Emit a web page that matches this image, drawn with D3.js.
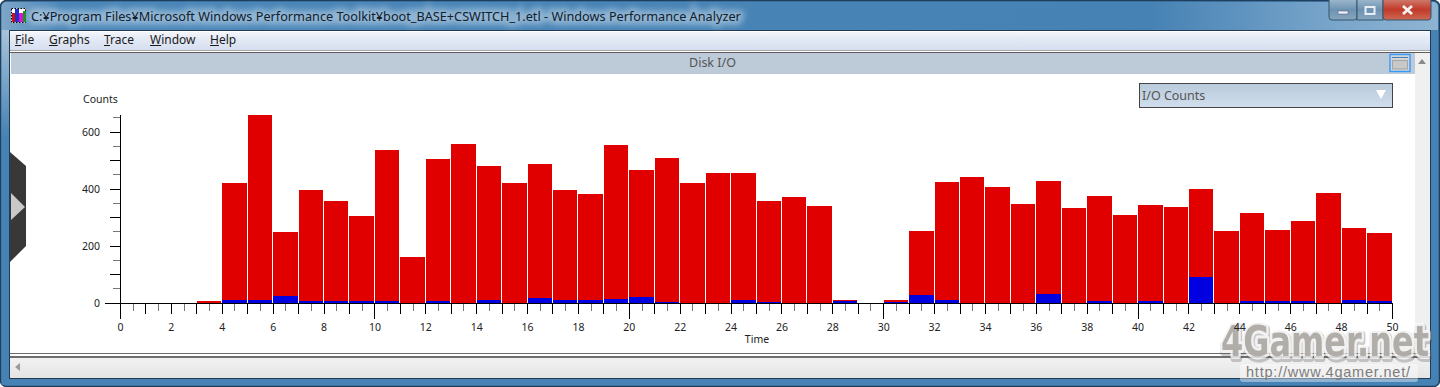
<!DOCTYPE html>
<html>
<head>
<meta charset="utf-8">
<script src="https://cdn.jsdelivr.net/npm/d3@7"></script>
<style>
html, body { margin: 0; padding: 0; background: #fff; overflow: hidden; }
svg { display: block; font-family: "Noto Sans", sans-serif; }
</style>
</head>
<body>
<svg id="chart" width="1440" height="387"></svg>
<script>
// --- Data ---
const timeBins = d3.range(0, 50);
const totalCounts = [0, 0, 0, 7, 420, 660, 250, 397, 358, 305, 537, 162, 505, 558, 480, 420, 488, 397, 382, 555,
    467, 509, 420, 456, 456, 358, 372, 340, 12, 0, 12, 253, 425, 442, 407, 347, 428, 333, 375, 309,
    344, 337, 400, 253, 316, 256, 288, 386, 263, 246];
const blueCounts = [0, 0, 0, 0, 12, 12, 25, 7, 7, 7, 7, 0, 7, 0, 12, 0, 18, 12, 12, 14,
    21, 4, 0, 0, 12, 4, 0, 0, 8, 0, 4, 28, 12, 0, 0, 0, 33, 0, 7, 0,
    7, 0, 92, 0, 7, 7, 7, 0, 12, 7];
const yLabels = [0, 200, 400, 600];
const xLabels = d3.range(0, 51, 2);
const menuItems = ["File", "Graphs", "Trace", "Window", "Help"];
const menuX = [15, 49, 104, 150, 210];

const svg = d3.select("#chart");
const defs = svg.append("defs");

function gradient(id, stops) {
    const g = defs.append("linearGradient").attr("id", id).attr("x1", 0).attr("y1", 0).attr("x2", 0).attr("y2", 1);
    stops.forEach(s => g.append("stop").attr("offset", s[0]).attr("stop-color", s[1]));
}
gradient("menuGrad", [[0, "#f4f6fb"], [0.3, "#e6ebf6"], [1, "#d6dff0"]]);
gradient("comboGrad", [[0, "#b9cadb"], [1, "#d0deec"]]);
gradient("closeGrad", [[0, "#d08a7c"], [0.55, "#c23a2a"], [1, "#cc6a55"]]);
gradient("btnGrad", [[0, "#a9c0d3"], [0.55, "#6d93b2"], [1, "#87a5bd"]]);
gradient("scrollGrad", [[0, "#f2f2f2"], [1, "#e4e4e4"]]);
gradient("edgeGrad", [[0, "#a9c3d9"], [0.3, "#4682b4"], [1, "#4682b4"]]);
const titleGrad = defs.append("linearGradient").attr("id", "titleGrad");
[[0, "#7ea6c8"], [0.04, "#4a86b8"], [0.8, "#4682b4"], [0.93, "#7aa6cb"], [1, "#8fb4d2"]].forEach(s =>
    titleGrad.append("stop").attr("offset", s[0]).attr("stop-color", s[1]));
defs.append("filter").attr("id", "glow").attr("x", "-5%").attr("y", "-100%").attr("width", "110%").attr("height", "300%")
    .append("feGaussianBlur").attr("stdDeviation", 3);

// --- Window frame ---
function drawFrame() {
    const titleText = "C:¥Program Files¥Microsoft Windows Performance Toolkit¥boot_BASE+CSWITCH_1.etl - Windows Performance Analyzer";

    svg.append("rect").attr("x", 0.5).attr("y", 0.5).attr("width", 1439).attr("height", 386).attr("rx", 6)
        .attr("fill", "#4682b4").attr("stroke", "#1f3f5c").attr("stroke-width", 1.5);
    svg.append("path").attr("d", "M1.5,30V7a5,5 0 0 1 5,-5H1433a5,5 0 0 1 5,5V30Z").attr("fill", "url(#titleGrad)");
    svg.append("rect").attr("x", 1.5).attr("y", 30).attr("width", 8).attr("height", 355).attr("fill", "url(#edgeGrad)");

    // inner client area
    svg.append("rect").attr("x", 9).attr("y", 30).attr("width", 1422).attr("height", 349).attr("fill", "#1f3a52");
    svg.append("rect").attr("x", 10).attr("y", 31).attr("width", 1420).attr("height", 347).attr("fill", "#fff");

    // menu bar
    svg.append("rect").attr("x", 10).attr("y", 32).attr("width", 1420).attr("height", 18).attr("fill", "url(#menuGrad)");
    svg.append("rect").attr("x", 10).attr("y", 50).attr("width", 1420).attr("height", 1).attr("fill", "#a8a8a8");
    svg.append("rect").attr("x", 10).attr("y", 52).attr("width", 1420).attr("height", 1).attr("fill", "#5c5c5c");

    // panel header
    svg.append("rect").attr("x", 11).attr("y", 53).attr("width", 1404).attr("height", 21).attr("fill", "#bdcbd9");
    svg.append("text").attr("x", 712.5).attr("y", 67).attr("text-anchor", "middle")
        .attr("font-size", 12.5).attr("fill", "#555").text("Disk I/O");

    // restore icon in panel header
    svg.append("rect").attr("x", 1390).attr("y", 54.5).attr("width", 20).attr("height", 17)
        .attr("fill", "#d4d4d4").attr("stroke", "#3399ff").attr("stroke-width", 1.4);
    svg.append("line").attr("x1", 1392).attr("x2", 1408).attr("y1", 57.5).attr("y2", 57.5).attr("stroke", "#4a7fb8");
    svg.append("rect").attr("x", 1392.5).attr("y", 60.5).attr("width", 15).attr("height", 8.5)
        .attr("fill", "#c8c8c8").attr("stroke", "#a5a5a5");

    // right scrollbar
    svg.append("rect").attr("x", 1415).attr("y", 53).attr("width", 15).attr("height", 303).attr("fill", "#f0f0f0");
    svg.append("path").attr("d", "M1418,64L1422,59L1426,64Z").attr("fill", "#8a8a8a");

    // bottom rules and scrollbar
    svg.append("rect").attr("x", 10).attr("y", 353).attr("width", 1420).attr("height", 1).attr("fill", "#6e6e6e");
    svg.append("rect").attr("x", 10).attr("y", 356).attr("width", 1420).attr("height", 2).attr("fill", "#6e6e6e");
    svg.append("rect").attr("x", 10).attr("y", 358).attr("width", 1420).attr("height", 20).attr("fill", "url(#scrollGrad)");
    svg.append("path").attr("d", "M15,367L20,363L20,371Z").attr("fill", "#9a9a9a");

    // side handle on left
    svg.append("path").attr("d", "M10,152L26,166L26,246L10,262Z").attr("fill", "#383838");
    svg.append("path").attr("d", "M11,193L25,207L11,220Z").attr("fill", "#c8c8c8");

    // title bar icon
    svg.append("rect").attr("x", 11.5).attr("y", 8.5).attr("width", 14).attr("height", 14).attr("fill", "#fff")
        .attr("stroke", "#000").attr("stroke-dasharray", "1.5 1.5");
    const iconColors = ["#d01010", "#2030d0", "#e010d0", "#109020"];
    const iconX = [12, 15, 19, 23];
    const iconWidths = [3, 4, 4, 3];
    const iconHeights = [9, 13, 9, 11];
    iconColors.forEach((c, i) => svg.append("rect").attr("x", iconX[i]).attr("y", 22 - iconHeights[i])
        .attr("width", iconWidths[i]).attr("height", iconHeights[i]).attr("fill", c));

    // title text with the glass glow behind it
    svg.append("text").attr("x", 31).attr("y", 21).attr("font-size", 12.7).attr("fill", "#fff")
        .attr("stroke", "#fff").attr("stroke-width", 7).attr("opacity", 0.4).attr("filter", "url(#glow)")
        .text(titleText);
    svg.append("text").attr("x", 31).attr("y", 21).attr("font-size", 12.7).attr("fill", "#10202c")
        .text(titleText);

    // caption buttons
    svg.append("rect").attr("x", 1329).attr("y", -3).attr("width", 28).attr("height", 23).attr("rx", 3).attr("fill", "url(#btnGrad)").attr("stroke", "#33566f");
    svg.append("rect").attr("x", 1357).attr("y", -3).attr("width", 26).attr("height", 23).attr("fill", "url(#btnGrad)").attr("stroke", "#33566f");
    svg.append("rect").attr("x", 1383).attr("y", -3).attr("width", 48).attr("height", 23).attr("rx", 3).attr("fill", "url(#closeGrad)").attr("stroke", "#33566f");
    svg.append("rect").attr("x", 1338).attr("y", 11).attr("width", 10).attr("height", 3).attr("fill", "#eef").attr("stroke", "#456").attr("stroke-width", 0.5);
    svg.append("rect").attr("x", 1365.5).attr("y", 7).attr("width", 9).attr("height", 7).attr("fill", "none").attr("stroke", "#e8eef5").attr("stroke-width", 2);
    svg.append("path").attr("d", "M1403,6L1412,14M1412,6L1403,14").attr("stroke", "#f4f4f4").attr("stroke-width", 2.8);

    // menu labels
    const menu = svg.append("g").attr("font-size", 12).attr("fill", "#1a1a1a");
    menuItems.forEach((m, i) => {
        const t = menu.append("text").attr("x", menuX[i]).attr("y", 44).text(m);
        // mnemonic underline under the first letter
        const first = t.node().getSubStringLength(0, 1);
        menu.append("line").attr("x1", menuX[i]).attr("x2", menuX[i] + first).attr("y1", 45.5).attr("y2", 45.5)
            .attr("stroke", "#1a1a1a").attr("stroke-width", 1);
    });

    // combo box
    svg.append("rect").attr("x", 1139.5).attr("y", 83.5).attr("width", 253).attr("height", 24)
        .attr("fill", "url(#comboGrad)").attr("stroke", "#444");
    svg.append("text").attr("x", 1142).attr("y", 100).attr("font-size", 12.5).attr("fill", "#555")
        .text("I/O Counts");
    svg.append("path").attr("d", "M1376,90L1386,90L1381,99Z").attr("fill", "#fff");
}

// --- Chart ---
const x = d3.scaleLinear().domain([0, 50]).range([120.5, 1392.5]);
const y = d3.scaleLinear().domain([0, 600]).range([303, 132]);

function drawStack(cls, values, color) {
    svg.append("g").attr("shape-rendering", "crispEdges")
        .selectAll("rect." + cls).data(timeBins.filter(d => values[d] > 0)).join("rect")
        .attr("class", cls)
        .attr("x", d => Math.round(x(d)))
        .attr("width", d => Math.round(x(d + 1)) - Math.round(x(d)) - 1)
        .attr("y", d => y(values[d]))
        .attr("height", d => y(0) - y(values[d]))
        .attr("fill", color);
}

function drawAxes() {
    const g = svg.append("g").attr("shape-rendering", "crispEdges");

    // y ticks
    g.selectAll("line.yMinor").data(d3.range(50, 651, 100)).join("line")
        .attr("x1", 113).attr("x2", 120).attr("y1", d => y(d)).attr("y2", d => y(d)).attr("stroke", "#777");
    g.selectAll("line.yMajor").data(d3.range(0, 601, 100)).join("line")
        .attr("x1", 110).attr("x2", 120).attr("y1", d => y(d)).attr("y2", d => y(d)).attr("stroke", "#000");
    g.append("line").attr("x1", 120.5).attr("x2", 120.5).attr("y1", 115).attr("y2", 303).attr("stroke", "#000");
    g.append("line").attr("x1", 105).attr("x2", 1393).attr("y1", 303.5).attr("y2", 303.5).attr("stroke", "#000");

    // x ticks
    g.selectAll("line.xMinor").data(timeBins).join("line")
        .attr("x1", d => x(d + 0.5)).attr("x2", d => x(d + 0.5)).attr("y1", 304).attr("y2", 311).attr("stroke", "#777");
    g.selectAll("line.xMajor").data(d3.range(0, 51)).join("line")
        .attr("x1", d => x(d)).attr("x2", d => x(d)).attr("y1", 304)
        .attr("y2", d => d % 10 === 0 ? 319 : 314).attr("stroke", "#000");
}

function drawLabels() {
    const labels = svg.append("g").attr("font-size", 10.5).attr("fill", "#222");
    labels.selectAll("text.y").data(yLabels).join("text")
        .attr("x", 100).attr("text-anchor", "end").attr("y", d => y(d) + 4).text(d => d);
    labels.selectAll("text.x").data(xLabels).join("text")
        .attr("x", d => x(d)).attr("text-anchor", "middle").attr("y", 331).text(d => d);
    labels.append("text").attr("x", 757).attr("y", 343).attr("text-anchor", "middle").text("Time");
    labels.append("text").attr("x", 83).attr("y", 103).text("Counts");
}

function drawWatermark() {
    const mark = svg.append("g");
    mark.append("rect").attr("x", 1240).attr("y", 364).attr("width", 178).attr("height", 18).attr("rx", 3)
        .attr("fill", "#fff").attr("opacity", 0.4);

    const logo = mark.append("g");
    const logoFont = t => t.attr("font-family", "'DejaVu Sans', sans-serif").attr("font-size", 42)
        .attr("font-weight", "bold").attr("stroke-linejoin", "round").text("4Gamer.net");
    logoFont(logo.append("text")).attr("y", 2).attr("x", 1)
        .attr("fill", "none").attr("stroke", "#555").attr("stroke-width", 8).attr("opacity", 0.3);
    logoFont(logo.append("text"))
        .attr("fill", "#fff").attr("stroke", "#fff").attr("stroke-width", 6).attr("opacity", 0.75);
    const front = logoFont(logo.append("text")).attr("fill", "#aaa6a2").attr("opacity", 0.9);
    // squeeze the logo to its width in the picture
    const scaleX = 208 / front.node().getComputedTextLength();
    logo.attr("transform", `translate(1221,356) scale(${scaleX},1)`);

    mark.append("text").attr("x", 1246).attr("y", 377).attr("font-size", 14.5)
        .attr("font-family", "'Liberation Sans', sans-serif")
        .attr("textLength", 164).attr("fill", "#7d7d7d").text("http://www.4gamer.net/");
}

drawFrame();
drawStack("total", totalCounts, "#e00000");
drawStack("blue", blueCounts, "#0000e0");
drawAxes();
drawWatermark();
// tick labels stay readable through the translucent logo
drawLabels();
</script>
</body>
</html>
